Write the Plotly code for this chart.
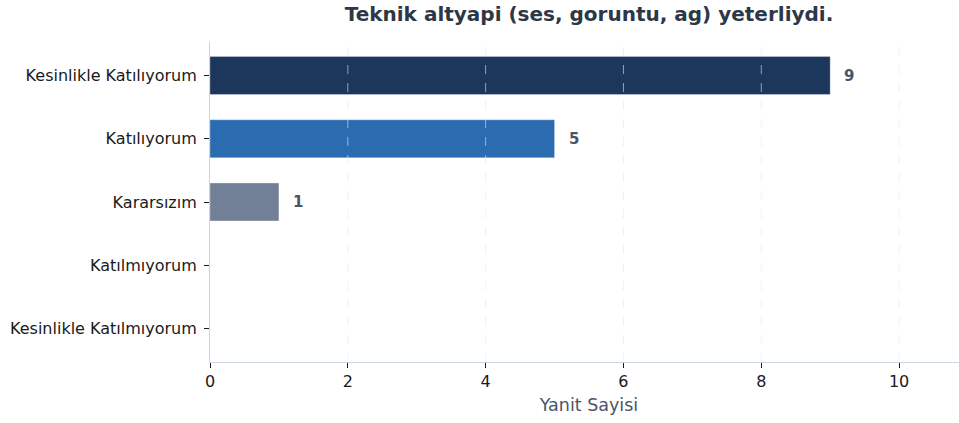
import plotly.graph_objects as go

categories = ["Kesinlikle Katılıyorum", "Katılıyorum", "Kararsızım", "Katılmıyorum", "Kesinlikle Katılmıyorum"]
values = [9, 5, 1, 0, 0]
colors = ["#1c365c", "#2b6cb0", "#718096", "#e53e3e", "#9b2c2c"]
title = "Teknik altyapi (ses, goruntu, ag) yeterliydi."
x_title = "Yanit Sayisi"
x_ticks = [0, 2, 4, 6, 8, 10]

font_family = "DejaVu Sans, Verdana, sans-serif"

fig = go.Figure()
fig.add_trace(go.Bar(
    y=categories, x=values, orientation="h",
    marker=dict(color=colors, line=dict(width=0.6, color="rgba(255,255,255,0.5)")),
    width=0.6, showlegend=False, hoverinfo="x+y",
))

annotations = []
for c, v in zip(categories, values):
    if v > 0:
        annotations.append(dict(
            x=v, y=c, xref="x", yref="y", text=f"<b>{v}</b>",
            showarrow=False, xanchor="left", yanchor="middle", xshift=12,
            font=dict(family=font_family, size=15, color="#4a5568"),
        ))

shapes = []
for t in x_ticks[1:]:
    shapes.append(dict(
        type="line", xref="x", yref="paper", x0=t, x1=t, y0=0, y1=1,
        line=dict(color="rgba(226,232,240,0.6)", width=1, dash="dash"),
        layer="above",
    ))

fig.update_layout(
    width=970, height=423,
    margin=dict(l=210, r=2, t=42, b=61, autoexpand=False),
    paper_bgcolor="white", plot_bgcolor="white",
    font=dict(family=font_family, size=16, color="#1a1a1a"),
    title=dict(text=f"<b>{title}</b>", xref="paper", yref="container",
               x=0.5, xanchor="center",
               y=1 - 13.5 / 423, yanchor="middle",
               font=dict(family=font_family, size=20, color="#2d3748")),
    annotations=annotations,
    shapes=shapes,
    bargap=0.4,
)
fig.update_xaxes(
    range=[0, 11], tickvals=x_ticks, ticktext=[str(t) for t in x_ticks],
    showgrid=False, automargin=False,
    showline=True, linecolor="#cbd5e0", linewidth=1,
    ticks="outside", ticklen=5, tickcolor="#1a1a1a", tickwidth=1,
    tickfont=dict(family=font_family, size=16, color="#1a1a1a"),
    title=dict(text=x_title, font=dict(family=font_family, size=17.5, color="#4a5568"), standoff=8),
    zeroline=False, fixedrange=True,
)
fig.update_yaxes(
    categoryorder="array", categoryarray=categories[::-1],
    range=[-0.53, 4.53], automargin=False,
    showgrid=False, showline=True, linecolor="#cbd5e0", linewidth=1,
    ticks="outside", ticklen=5, tickcolor="#1a1a1a", tickwidth=1,
    ticklabelstandoff=4,
    tickfont=dict(family=font_family, size=16, color="#1a1a1a"),
    zeroline=False, fixedrange=True,
)

fig.write_html(
    "out.html",
    config={"displayModeBar": False},
    post_script="document.body.style.margin='0';document.body.style.overflow='hidden';",
)
